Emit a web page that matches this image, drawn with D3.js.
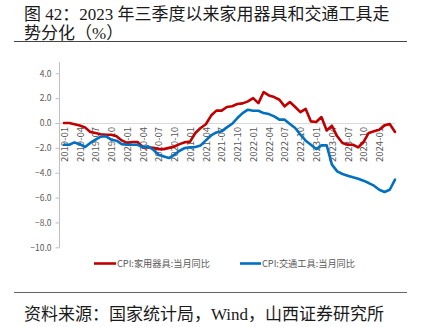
<!DOCTYPE html>
<html><head><meta charset="utf-8">
<script src="https://cdn.jsdelivr.net/npm/d3@7"></script>
<style>
body{margin:0;background:#fff;}
svg{display:block;}
</style></head>
<body>
<svg id="c" width="421" height="327"></svg>
<script>
const months = [];
for (let y = 2019; y <= 2024; y++) for (let m = 1; m <= 12; m++) { if (y === 2024 && m > 4) break; months.push(y + "-" + String(m).padStart(2, "0")); }
const tickLabels = ["2019-01","2019-04","2019-07","2019-10","2020-01","2020-04","2020-07","2020-10","2021-01","2021-04","2021-07","2021-10","2022-01","2022-04","2022-07","2022-10","2023-01","2023-04","2023-07","2023-10","2024-01"];
const yTicks = [4,2,0,-2,-4,-6,-8,-10];
const seriesNames = ["CPI:家用器具:当月同比","CPI:交通工具:当月同比"];
const appliance = [0.0,0.0,-0.1,-0.2,-0.35,-0.72,-0.8,-0.9,-0.95,-0.95,-1.07,-1.4,-1.6,-1.53,-1.53,-1.96,-1.96,-2.0,-2.1,-2.1,-2.0,-1.9,-1.7,-1.55,-1.5,-0.8,-0.4,-0.1,0.6,1.0,
 1.0,1.29,1.35,1.53,1.58,1.74,2.0,1.6,2.49,2.22,2.09,1.87,1.34,1.69,1.29,0.88,1.13,0.13,0.08,0.48,-0.6,-0.22,-1.07,-1.61,-1.75,-1.75,-1.96,-1.53,-0.8,-0.67,-0.54,-0.19,-0.08,-0.72];
const transport = [-1.75,-1.75,-1.56,-1.7,-1.93,-1.6,-1.34,-1.1,-1.07,-1.34,-1.42,-1.7,-1.75,-1.75,-1.75,-1.96,-1.88,-2.15,-2.55,-2.69,-2.82,-2.55,-2.23,-2.01,-1.96,-1.93,-1.8,-1.4,-1.0,-0.76,
 -0.67,-0.35,-0.06,0.4,0.8,1.07,0.99,0.99,0.8,0.72,0.53,0.27,0.27,-0.08,-0.4,-0.94,-1.42,-1.75,-2.1,-1.8,-1.8,-3.35,-3.89,-4.1,-4.24,-4.37,-4.48,-4.64,-4.83,-5.04,-5.37,-5.55,-5.37,-4.56];
const colors = ["#c00000","#0070c0"];

const svg = d3.select("#c");
const serif = "'Liberation Serif','Noto Sans CJK SC',serif";
const sans = "'Noto Sans CJK SC','Liberation Sans',sans-serif";

// title
svg.append("text").attr("x",24).attr("y",20).attr("font-family",serif).attr("font-size",17).attr("fill","#1a1a1a")
  .text("图 42：2023 年三季度以来家用器具和交通工具走");
svg.append("text").attr("x",24).attr("y",39).attr("font-family",serif).attr("font-size",17).attr("fill","#1a1a1a")
  .text("势分化（%）");
svg.append("line").attr("x1",14).attr("x2",407).attr("y1",41.5).attr("y2",41.5).attr("stroke","#444").attr("stroke-width",1);
svg.append("line").attr("x1",14).attr("x2",407).attr("y1",292.5).attr("y2",292.5).attr("stroke","#666").attr("stroke-width",1);
svg.append("text").attr("x",24).attr("y",320).attr("font-family",serif).attr("font-size",17).attr("fill","#1a1a1a")
  .text("资料来源：国家统计局，Wind，山西证券研究所");

const x = d3.scalePoint().domain(months).range([64, 395]);
const y = d3.scaleLinear().domain([-10, 4]).range([247.3, 73.3]);

// y axis
const yAxis = svg.append("g").attr("transform","translate(59.5,0)")
  .call(d3.axisLeft(y).tickValues(yTicks).tickFormat(d3.format(".1f")).tickSize(4).tickPadding(4));
yAxis.select(".domain").remove();
yAxis.selectAll(".tick line").attr("stroke","#bfbfbf");
yAxis.selectAll("text").attr("font-family",sans).attr("font-size",8.5).attr("fill","#595959");
svg.append("line").attr("x1",59.5).attr("x2",59.5).attr("y1",62).attr("y2",247.5).attr("stroke","#bfbfbf");

// x axis at zero
const xAxis = svg.append("g").attr("transform",`translate(0,${y(0)})`)
  .call(d3.axisBottom(x).tickValues(tickLabels).tickSize(0).tickPadding(3));
xAxis.select(".domain").attr("d",`M59.5,0.5H395`).attr("stroke","#d9d9d9");
xAxis.selectAll("text").attr("font-family",sans).attr("font-size",9.5).attr("fill","#595959")
  .attr("transform","rotate(-90)").attr("text-anchor","end").attr("dy","0.35em").attr("x",-4).attr("y",0);

// lines
const line = d3.line().x((d,i)=>x(months[i])).y(d=>y(d));
[appliance, transport].forEach((s, k) => {
  svg.append("path").datum(s).attr("d", line).attr("fill","none").attr("stroke",colors[k])
    .attr("stroke-width",2.6).attr("stroke-linejoin","round").attr("stroke-linecap","round");
});

// legend
const lg = [[94,117],[240,262]];
seriesNames.forEach((n,k)=>{
  svg.append("line").attr("x1",lg[k][0]).attr("x2",lg[k][1]-1).attr("y1",263.5).attr("y2",263.5).attr("stroke",colors[k]).attr("stroke-width",2.6);
  svg.append("text").attr("x",lg[k][1]).attr("y",266.8).attr("font-family",sans).attr("font-size",9.2).attr("fill","#595959").text(n);
});
</script>
</body></html>
